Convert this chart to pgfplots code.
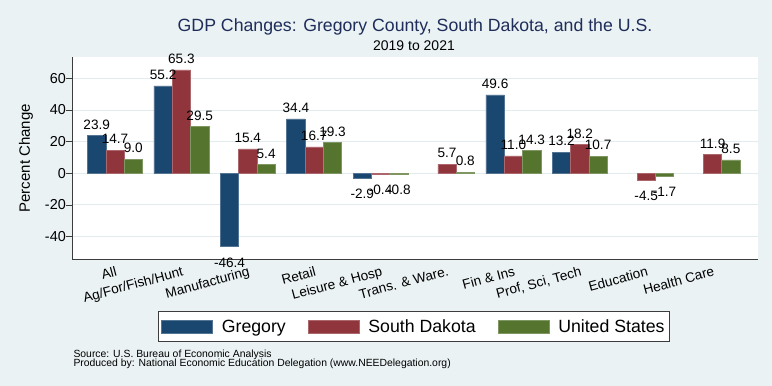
\documentclass[border=0pt]{standalone}
\usepackage{pgfplots}
\pgfplotsset{compat=1.18}
\usepackage{pgfplotstable}
\usepackage{fontspec}
\setmainfont{Liberation Sans}
\definecolor{bgc}{RGB}{234,242,243}
\definecolor{gridc}{RGB}{226,235,238}
\definecolor{gnavy}{RGB}{26,71,111}
\definecolor{gmaroon}{RGB}{144,53,59}
\definecolor{ggreen}{RGB}{85,117,47}
\definecolor{titlec}{RGB}{30,45,90}
\definecolor{axc}{RGB}{60,60,60}

% positive values
\pgfplotstableread{
x y lab
0 23.9 23.9
1 55.2 55.2
3 34.4 34.4
6 49.6 49.6
7 13.2 13.2
}\gregp
\pgfplotstableread{
x y lab
2 -46.4 -46.4
4 -2.9 -2.9
}\gregn
\pgfplotstableread{
x y lab
0 14.7 14.7
1 65.3 65.3
2 15.4 15.4
3 16.7 16.7
5 5.7 5.7
6 11.0 11.0
7 18.2 18.2
9 11.9 11.9
}\sdp
\pgfplotstableread{
x y lab
4 -0.4 -0.4
8 -4.5 -4.5
}\sdn
\pgfplotstableread{
x y lab
0 9.0 9.0
1 29.5 29.5
2 5.4 5.4
3 19.3 19.3
5 0.8 0.8
6 14.3 14.3
7 10.7 10.7
9 8.5 8.5
}\usp
\pgfplotstableread{
x y lab
4 -0.8 -0.8
8 -1.7 -1.7
}\usn

\begin{document}
\begin{tikzpicture}
\path[use as bounding box, fill=bgc] (0pt,0pt) rectangle (772pt,386pt);
\begin{axis}[
  at={(72pt,126pt)}, anchor=south west,
  width=686pt, height=203pt, scale only axis,
  xmin=-0.648, xmax=9.684, ymin=-54.8, ymax=73.5,
  axis background/.style={fill=white},
  axis line style={draw=none},
  ybar, bar width=0.2756,
  legend image code/.code={\draw[#1,/tikz/.cd,yshift=0pt] (0pt,-6.5pt) rectangle (51pt,6.5pt);},
  xtick={0,...,9},
  xticklabels={All,Ag/For/Fish/Hunt,Manufacturing,Retail,Leisure \& Hosp,Trans. \& Ware.,Fin \& Ins,{Prof, Sci, Tech},Education,Health Care},
  x tick style={draw=none},
  x tick label style={rotate=15, anchor=north east, inner sep=0pt, font=\fontsize{13.6}{14}\selectfont},
  xticklabel shift=0pt,
  ytick={-40,-20,0,20,40,60},
  ytick pos=left, tick align=outside, major tick length=6pt,
  y tick style={draw=axc, line width=0.8pt},
  y tick label style={font=\fontsize{14.4}{15}\selectfont, inner xsep=0pt},
  /pgf/number format/assume math mode=true,
  ymajorgrids, grid style={draw=gridc, line width=1pt},
  clip=false,
  point meta=explicit symbolic,
  nodes near coords={\rule{0pt}{14pt}\pgfplotspointmeta},
  every node near coord/.append style={font=\fontsize{13.6}{14}\selectfont, inner xsep=0pt, inner ysep=6pt, text=black, anchor=south},
  legend style={at={(0.4984,-0.2512)}, anchor=north, draw=axc, line width=1pt, fill=white,
    legend columns=3, font=\fontsize{17.7}{17.7}\selectfont, inner xsep=3pt, inner ysep=6pt,
    /tikz/every even column/.append style={column sep=20pt},
    /tikz/every odd column/.append style={column sep=7pt}},
  neg/.style={forget plot, every node near coord/.append style={anchor=north}},
]
\addplot[fill=gnavy, draw=gnavy!75!white, line width=0.6pt, bar shift=-0.2756] table[x=x,y=y,meta=lab]{\gregp};
\addplot[fill=gmaroon, draw=gmaroon!75!white, line width=0.6pt, bar shift=0] table[x=x,y=y,meta=lab]{\sdp};
\addplot[fill=ggreen, draw=ggreen!75!white, line width=0.6pt, bar shift=0.2756] table[x=x,y=y,meta=lab]{\usp};
\legend{Gregory,South Dakota,United States\hspace{11pt}}
\addplot[neg, fill=gnavy, draw=gnavy!75!white, line width=0.6pt, bar shift=-0.2756] table[x=x,y=y,meta=lab]{\gregn};
\addplot[neg, fill=gmaroon, draw=gmaroon!75!white, line width=0.6pt, bar shift=0] table[x=x,y=y,meta=lab]{\sdn};
\addplot[neg, fill=ggreen, draw=ggreen!75!white, line width=0.6pt, bar shift=0.2756] table[x=x,y=y,meta=lab]{\usn};
\draw[axc, line width=1pt] (rel axis cs:0,1) -- (rel axis cs:0,0) -- (rel axis cs:1,0);
\end{axis}
\node[anchor=base, font=\fontsize{17.7}{17.7}\selectfont, text=titlec, inner sep=0pt] at (415pt,354.3pt) {GDP Changes: Gregory County, South Dakota, and the U.S.};
\node[anchor=base, font=\fontsize{14}{14}\selectfont, inner sep=0pt] at (414pt,335pt) {2019 to 2021};
\node[rotate=90, font=\fontsize{15}{15}\selectfont, inner sep=0pt] at (26pt,227.7pt) {Percent Change};
\node[anchor=base west, font=\fontsize{10.4}{10}\selectfont, inner sep=0pt] at (73.3pt,28.3pt) {Source: U.S. Bureau of Economic Analysis};
\node[anchor=base west, font=\fontsize{10.4}{10}\selectfont, inner sep=0pt] at (73.3pt,19.3pt) {Produced by: National Economic Education Delegation (www.NEEDelegation.org)};
\end{tikzpicture}
\end{document}
